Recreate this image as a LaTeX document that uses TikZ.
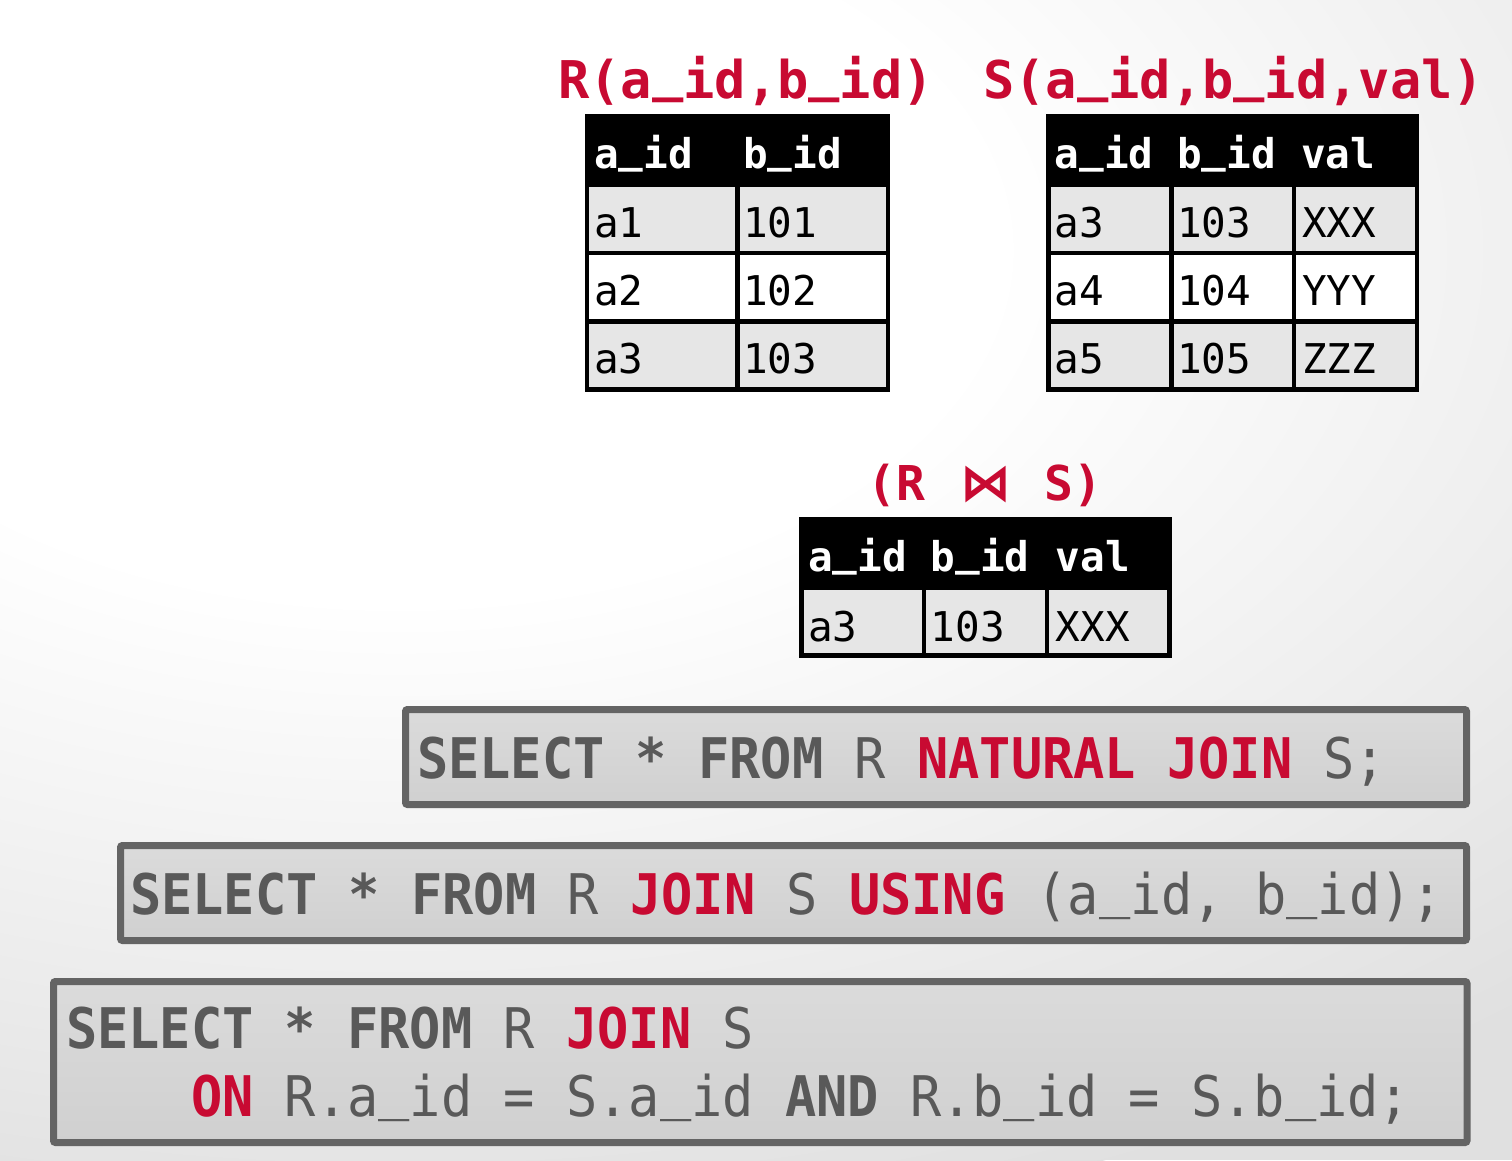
\documentclass[tikz,border=0pt]{standalone}
\usepackage{fontspec}
\newfontfamily\tabfont{DejaVu Sans Mono}
\newfontfamily\sqlfont[FakeStretch=0.927]{DejaVu Sans Mono}
\newfontfamily\symfont{DejaVu Sans}
\definecolor{dbred}{RGB}{200,10,50}
\definecolor{sqlgray}{RGB}{89,89,89}
\definecolor{boxline}{RGB}{100,100,100}
\definecolor{boxtop}{RGB}{219,219,219}
\definecolor{boxbot}{RGB}{208,208,208}
\definecolor{cellgray}{RGB}{230,230,230}
\pgfdeclareradialshading{bgshade}{\pgfpoint{0bp}{0bp}}{color(0bp)=(white); color(8.75bp)=(white); color(25bp)=(black!12); color(50bp)=(black!12)}
\tikzset{
  tabtxt/.style={anchor=base west, inner sep=0pt, font=\tabfont\fontsize{41}{41}\selectfont},
  tabhead/.style={anchor=base west, inner sep=0pt, text=white, font=\tabfont\bfseries\fontsize{41}{41}\selectfont},
  title/.style={anchor=base west, inner sep=0pt, text=dbred, font=\tabfont\bfseries\fontsize{52}{52}\selectfont},
  jtitle/.style={anchor=base west, inner sep=0pt, text=dbred, font=\tabfont\bfseries\fontsize{48}{48}\selectfont},
  sqltxt/.style={anchor=base west, inner sep=0pt, text=sqlgray, font=\sqlfont\fontsize{56}{56}\selectfont},
  sqlbox/.style={draw=boxline, line width=7pt, rounded corners=2pt, top color=boxtop, bottom color=boxbot},
}
\newcommand{\kw}[1]{\textbf{#1}}
\newcommand{\rk}[1]{\textcolor{dbred}{\textbf{#1}}}
\newcommand{\us}{\raisebox{0.14em}{\_}}
\begin{document}
\begin{tikzpicture}[x=1pt,y=-1pt]
\useasboundingbox (0,0) rectangle (1512,1160);
\begin{scope}
  \clip (0,0) rectangle (1512,1160);
  \fill[black!12] (0,0) rectangle (1512,1160);
  \shade[shading=bgshade] (400,250) ellipse [x radius=1700, y radius=1000];
\end{scope}

% ---------- R table ----------
\node[title] (rtitle) at (558,98) {R(a\us id,b\us id)};
\fill[black] (585,114) rectangle (890,391.5);
\fill[cellgray] (589,186.7) rectangle (735,250.7);
\fill[cellgray] (740,186.7) rectangle (885.5,250.7);
\fill[white] (589,255) rectangle (735,319);
\fill[white] (740,255) rectangle (885.5,319);
\fill[cellgray] (589,323.5) rectangle (735,387);
\fill[cellgray] (740,323.5) rectangle (885.5,387);
\node[tabhead] (rh1) at (594,168) {a\us id};
\node[tabhead] (rh2) at (743,168) {b\us id};
\node[tabtxt] (r11) at (594,237) {a1};
\node[tabtxt] (r12) at (743,237) {101};
\node[tabtxt] (r21) at (594,305) {a2};
\node[tabtxt] (r22) at (743,305) {102};
\node[tabtxt] (r31) at (594,373) {a3};
\node[tabtxt] (r32) at (743,373) {103};

% ---------- S table ----------
\node[title] (stitle) at (983,98) {S(a\us id,b\us id,val)};
\fill[black] (1046,114) rectangle (1419,391.5);
\foreach \ya/\yb/\c in {186.7/250.7/cellgray, 255/319/white, 323.5/387/cellgray}{
  \fill[\c] (1050.7,\ya) rectangle (1169,\yb);
  \fill[\c] (1174,\ya) rectangle (1291.7,\yb);
  \fill[\c] (1296,\ya) rectangle (1415,\yb);
}
\node[tabhead] (sh1) at (1054.5,168) {a\us id};
\node[tabhead] (sh2) at (1177,168) {b\us id};
\node[tabhead] (sh3) at (1301,168) {val};
\node[tabtxt] (s11) at (1054.5,237) {a3};
\node[tabtxt] (s12) at (1177,237) {103};
\node[tabtxt] (s13) at (1302,237) {XXX};
\node[tabtxt] (s21) at (1054.5,305) {a4};
\node[tabtxt] (s22) at (1177,305) {104};
\node[tabtxt] (s23) at (1302,305) {YYY};
\node[tabtxt] (s31) at (1054.5,373) {a5};
\node[tabtxt] (s32) at (1177,373) {105};
\node[tabtxt] (s33) at (1302,373) {ZZZ};

% ---------- join result ----------
\node[jtitle] (jt1) at (867,500) {(R};
\node[anchor=base, inner sep=0pt, text=dbred, font=\symfont\bfseries\fontsize{51}{51}\selectfont] (jt2) at (986,500) {⋈};
\node[jtitle] (jt3) at (1044,500) {S)};
\fill[black] (799,517.3) rectangle (1171.7,658.3);
\fill[cellgray] (804,590) rectangle (921.7,653.3);
\fill[cellgray] (926,590) rectangle (1045,653.3);
\fill[cellgray] (1049,590) rectangle (1166.7,653.3);
\node[tabhead] (jh1) at (808,571.7) {a\us id};
\node[tabhead] (jh2) at (930.5,571.7) {b\us id};
\node[tabhead] (jh3) at (1055.5,571.7) {val};
\node[tabtxt] (j11) at (808,641.7) {a3};
\node[tabtxt] (j12) at (930.5,641.7) {103};
\node[tabtxt] (j13) at (1055.5,641.7) {XXX};

% ---------- SQL boxes ----------
\path[sqlbox] (405.5,709.5) rectangle (1466.5,804.5);
\node[sqltxt] (q1) at (417,778) {\kw{SELECT} \kw{*} \kw{FROM} R \rk{NATURAL} \rk{JOIN} S;};

\path[sqlbox] (120.5,845.5) rectangle (1466.5,940.5);
\node[sqltxt] (q2) at (130,914) {\kw{SELECT} \kw{*} \kw{FROM} R \rk{JOIN} S \rk{USING} (a\us id, b\us id);};

\path[sqlbox] (53.5,981.5) rectangle (1467,1142.5);
\node[sqltxt] (q3a) at (66,1048) {\kw{SELECT} \kw{*} \kw{FROM} R \rk{JOIN} S};
\node[sqltxt] (q3b) at (191,1116) {\rk{ON} R.a\us id = S.a\us id \kw{AND} R.b\us id = S.b\us id;};
\end{tikzpicture}
\end{document}
